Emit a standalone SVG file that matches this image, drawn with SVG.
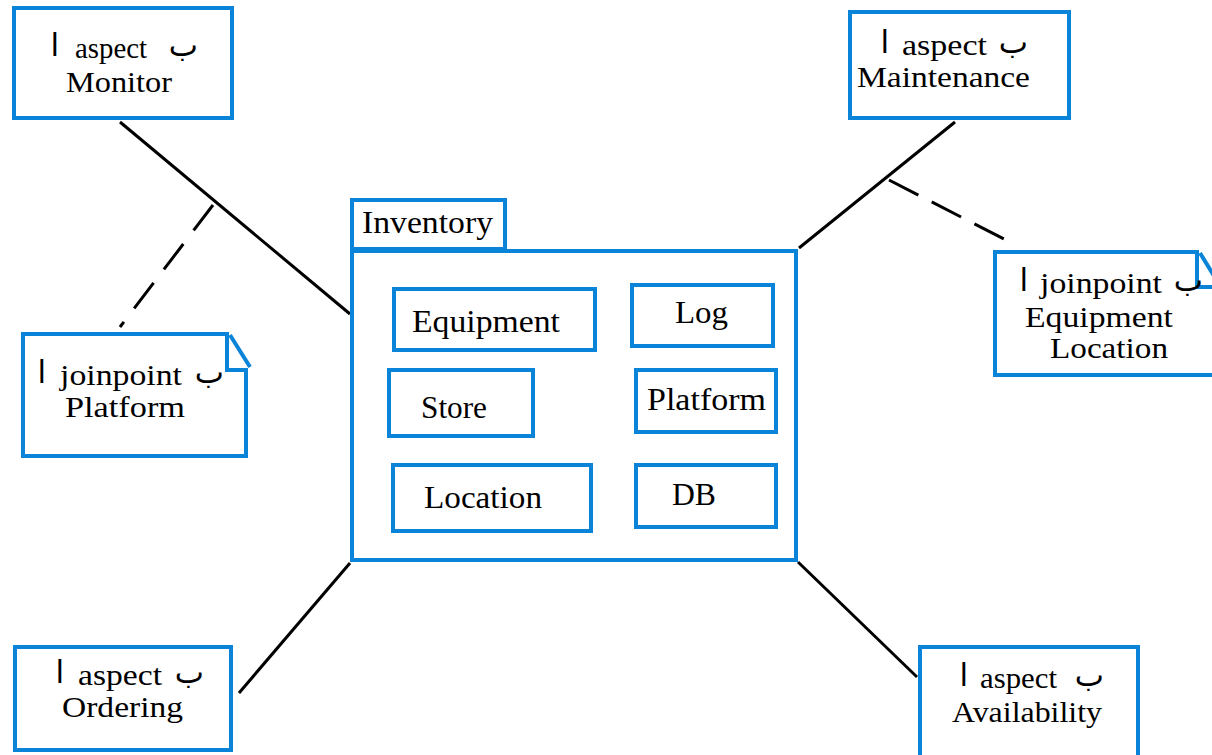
<svg xmlns="http://www.w3.org/2000/svg" width="1212" height="755" viewBox="0 0 1212 755">
<style>
.box{fill:#fff;stroke:#0984d8;stroke-width:4}
.t{font-family:"Liberation Serif","Times New Roman",serif;font-size:31px;fill:#000}
.t2{font-family:"Liberation Serif","Times New Roman",serif;font-size:29px;fill:#000}
.ar{font-family:"DejaVu Sans",sans-serif;font-size:31px;fill:#000}
.ln{stroke:#000;stroke-width:3;fill:none}
.fold{stroke:#0984d8;stroke-width:4;fill:none}
</style>
<rect width="1212" height="755" fill="#fff"/>
<g id="connectors">
<line class="ln" x1="120" y1="122" x2="350" y2="314"/>
<line class="ln" x1="213" y1="205" x2="120" y2="327" stroke-dasharray="32 17"/>
<line class="ln" x1="955" y1="122" x2="799" y2="248"/>
<line class="ln" x1="889" y1="180" x2="1004" y2="239" stroke-dasharray="33 15"/>
<line class="ln" x1="350" y1="563" x2="239" y2="693"/>
<line class="ln" x1="798" y1="562" x2="917" y2="677"/>
</g>
<g id="inventory">
<rect class="box" x="352" y="200" width="153" height="49"/>
<rect class="box" x="352" y="251" width="444" height="309"/>
<text class="t" x="362" y="233" textLength="131" lengthAdjust="spacingAndGlyphs">Inventory</text>
</g>
<g id="equipment">
<rect class="box" x="394" y="289" width="201" height="61"/>
<text class="t" x="412" y="332" textLength="148" lengthAdjust="spacingAndGlyphs">Equipment</text>
</g>
<g id="log">
<rect class="box" x="632" y="285" width="141" height="61"/>
<text class="t" x="675" y="323" textLength="53" lengthAdjust="spacingAndGlyphs">Log</text>
</g>
<g id="store">
<rect class="box" x="389" y="370" width="144" height="66"/>
<text class="t" x="421" y="418" textLength="66" lengthAdjust="spacingAndGlyphs">Store</text>
</g>
<g id="platform">
<rect class="box" x="636" y="370" width="140" height="62"/>
<text class="t" x="647" y="410" textLength="119" lengthAdjust="spacingAndGlyphs">Platform</text>
</g>
<g id="location">
<rect class="box" x="393" y="465" width="198" height="66"/>
<text class="t" x="424" y="508" textLength="118" lengthAdjust="spacingAndGlyphs">Location</text>
</g>
<g id="db">
<rect class="box" x="636" y="465" width="140" height="62"/>
<text class="t" x="672" y="505" textLength="44" lengthAdjust="spacingAndGlyphs">DB</text>
</g>
<g id="aspect-monitor">
<rect class="box" x="14" y="8" width="218" height="110"/>
<text class="ar" x="59" y="56" text-anchor="end">ا</text>
<text class="t2" x="75" y="58" textLength="72" lengthAdjust="spacingAndGlyphs">aspect</text>
<text class="ar" x="198" y="56" text-anchor="end">ب</text>
<text class="t2" x="66" y="92" textLength="106" lengthAdjust="spacingAndGlyphs">Monitor</text>
</g>
<g id="aspect-maintenance">
<rect class="box" x="850" y="12" width="219" height="106"/>
<text class="ar" x="889" y="53" text-anchor="end">ا</text>
<text class="t2" x="902" y="55" textLength="85" lengthAdjust="spacingAndGlyphs">aspect</text>
<text class="ar" x="1028" y="53" text-anchor="end">ب</text>
<text class="t2" x="857" y="87" textLength="173" lengthAdjust="spacingAndGlyphs">Maintenance</text>
</g>
<g id="aspect-ordering">
<rect class="box" x="15" y="647" width="216" height="103"/>
<text class="ar" x="64" y="683" text-anchor="end">ا</text>
<text class="t2" x="78" y="685" textLength="84" lengthAdjust="spacingAndGlyphs">aspect</text>
<text class="ar" x="204" y="683" text-anchor="end">ب</text>
<text class="t2" x="62" y="717" textLength="121" lengthAdjust="spacingAndGlyphs">Ordering</text>
</g>
<g id="aspect-availability">
<rect class="box" x="920" y="647" width="218" height="115"/>
<text class="ar" x="968" y="686" text-anchor="end">ا</text>
<text class="t2" x="980" y="688" textLength="77" lengthAdjust="spacingAndGlyphs">aspect</text>
<text class="ar" x="1104" y="686" text-anchor="end">ب</text>
<text class="t2" x="952" y="722" textLength="150" lengthAdjust="spacingAndGlyphs">Availability</text>
</g>
<g id="joinpoint-platform">
<path class="box" d="M23,334 H227 V370 H246 V456 H23 Z"/>
<line class="fold" x1="230" y1="335" x2="250" y2="367"/>
<text class="ar" x="46" y="383" text-anchor="end">ا</text>
<text class="t2" x="60" y="385" textLength="122" lengthAdjust="spacingAndGlyphs">joinpoint</text>
<text class="ar" x="224" y="383" text-anchor="end">ب</text>
<text class="t2" x="65" y="417" textLength="120" lengthAdjust="spacingAndGlyphs">Platform</text>
</g>
<g id="joinpoint-equipment-location">
<path class="box" d="M995,252 H1197 V287 H1222 V375 H995 Z"/>
<line class="fold" x1="1200" y1="253" x2="1214" y2="276"/>
<text class="ar" x="1028" y="291" text-anchor="end">ا</text>
<text class="t2" x="1040" y="293" textLength="122" lengthAdjust="spacingAndGlyphs">joinpoint</text>
<text class="ar" x="1203" y="291" text-anchor="end">ب</text>
<text class="t2" x="1025" y="327" textLength="148" lengthAdjust="spacingAndGlyphs">Equipment</text>
<text class="t2" x="1050" y="358" textLength="118" lengthAdjust="spacingAndGlyphs">Location</text>
</g>
</svg>
